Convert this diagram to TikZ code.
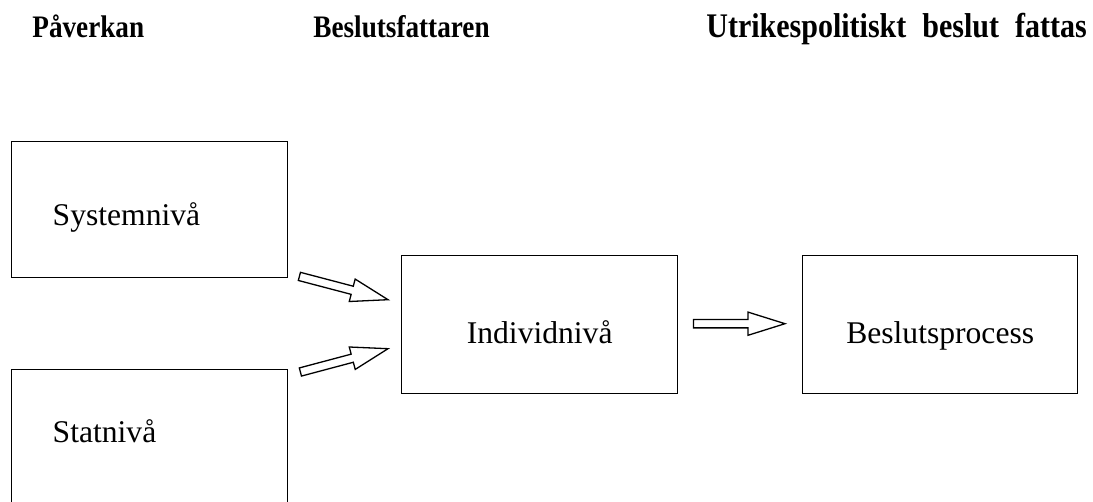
\documentclass[tikz,border=0pt]{standalone}
\usepackage{fontspec}
\usepackage{graphicx}
\setmainfont{Liberation Serif}
\usetikzlibrary{calc,positioning}

\newcommand{\tall}[1]{\scalebox{1}[1.15]{#1}}

\begin{document}
\begin{tikzpicture}[
				x=0.5pt, y=-0.5pt,
				heading/.style={anchor=base west, inner sep=0pt, font=\fontsize{13.6}{16}\selectfont\bfseries},
				level/.style={draw, line width=0.7pt, anchor=north west, minimum width=138pt, minimum height=69pt, inner ysep=0pt, text depth=4pt, font=\fontsize{15.8}{18}\selectfont},
				sidebox/.style={level, minimum height=68pt, align=left, text width=97pt, inner xsep=20.5pt},
				hollow/.style={line width=0.65pt, line join=miter, to path={
							($(\tikztostart)!2.1pt!90:(\tikztotarget)$)
							-- ($(\tikztotarget)!18.5pt!(\tikztostart)!2.1pt!90:(\tikztotarget)$)
							-- ($(\tikztotarget)!18.5pt!(\tikztostart)!5.8pt!90:(\tikztotarget)$)
							-- (\tikztotarget)
							-- ($(\tikztotarget)!18.5pt!(\tikztostart)!5.8pt!-90:(\tikztotarget)$)
							-- ($(\tikztotarget)!18.5pt!(\tikztostart)!2.1pt!-90:(\tikztotarget)$)
							-- ($(\tikztostart)!2.1pt!-90:(\tikztotarget)$) -- cycle}}
			]
			\useasboundingbox (0,0) rectangle (1093,502);
			\clip (0,0) rectangle (1093,502);

			% rubriker
			\node[heading] (paverkan) at (32,38) {\tall{Påverkan}};
			\node[heading] (fattare) at (313,38) {\tall{Beslutsfattaren}};
			\node[heading, font=\fontsize{15}{17}\selectfont\bfseries] (beslut) at (706,38) {\tall{Utrikespolitiskt\hspace{8pt}beslut\hspace{8pt}fattas}};

			% nivåer
			\node[sidebox, text height=20pt] (sys) at (11,141) {Systemnivå};
			\node[sidebox, text height=8.7pt] (stat) at (11,369) {Statnivå};
			\node[level, text height=23pt] (ind) at (401,255) {Individnivå};
			\node[level, text height=23pt, minimum width=137.5pt] (bes) at (802,255) {Beslutsprocess};

			\coordinate (s1) at ($(sys.south east)+(11,-2)$);
			\coordinate (t1) at ($(ind.west)+(-13,-25)$);
			\coordinate (s2) at ($(stat.north east)+(12,3)$);
			\coordinate (t2) at ($(ind.west)+(-13,24)$);
			\coordinate (s3) at ($(ind.east)+(15,-1)$);
			\coordinate (t3) at ($(bes.west)+(-17,-1)$);

			\draw[hollow] (s1) to (t1);
			\draw[hollow] (s2) to (t2);
			\draw[hollow] (s3) to (t3);
		\end{tikzpicture}
\end{document}
